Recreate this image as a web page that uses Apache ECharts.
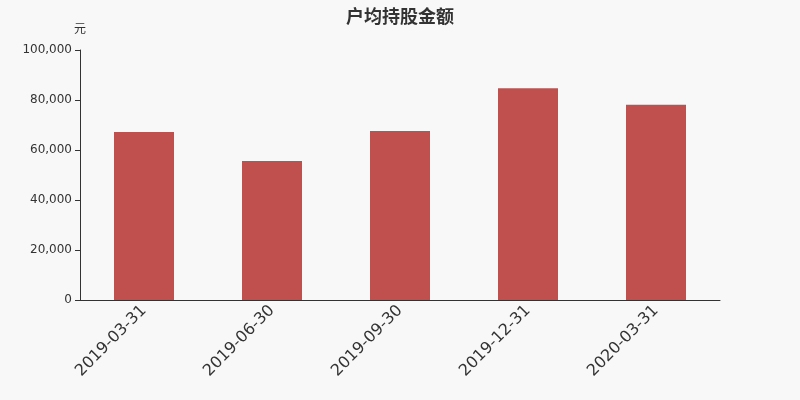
<!DOCTYPE html>
<html>
<head>
<meta charset="utf-8">
<script src="https://cdn.jsdelivr.net/npm/echarts@6/dist/echarts.min.js"></script>
<style>
html,body{margin:0;padding:0;background:#f8f8f8;}
#c{width:800px;height:400px;}
</style>
</head>
<body>
<div id="c"></div>
<script>
const categories = ['2019-03-31','2019-06-30','2019-09-30','2019-12-31','2020-03-31'];
const values = [67200, 55600, 67600, 84700, 78100];
const yTicks = { min: 0, max: 100000, interval: 20000 };
const titleText = '户均持股金额';
const unitText = '元';

const chart = echarts.init(document.getElementById('c'));
chart.setOption({
  backgroundColor: '#f8f8f8',
  animation: false,
  title: {
    text: titleText,
    left: 'center',
    top: 2,
    textStyle: { fontSize: 18, fontWeight: 'bold', color: '#333', fontFamily: 'Noto Sans CJK SC' }
  },
  grid: { left: 80, right: 80, top: 50, bottom: 100 },
  xAxis: {
    type: 'category',
    data: categories,
    axisLine: { lineStyle: { color: '#333' } },
    axisTick: { lineStyle: { color: '#333' } },
    axisLabel: { rotate: 45, fontSize: 16, color: '#333', fontFamily: 'DejaVu Sans', margin: 8 }
  },
  yAxis: {
    type: 'value',
    min: yTicks.min,
    max: yTicks.max,
    interval: yTicks.interval,
    name: unitText,
    nameGap: 16,
    nameTextStyle: { fontSize: 12, color: '#333', fontFamily: 'Noto Sans CJK SC' },
    axisLine: { show: true, lineStyle: { color: '#333' } },
    axisTick: { show: true, lineStyle: { color: '#333' } },
    splitLine: { show: false },
    axisLabel: {
      fontSize: 12, color: '#333', fontFamily: 'DejaVu Sans', margin: 8,
      formatter: v => v.toLocaleString('en-US')
    }
  },
  series: [{
    type: 'bar',
    data: values,
    barWidth: 60,
    itemStyle: { color: '#c0504e' }
  }]
});
</script>
</body>
</html>
